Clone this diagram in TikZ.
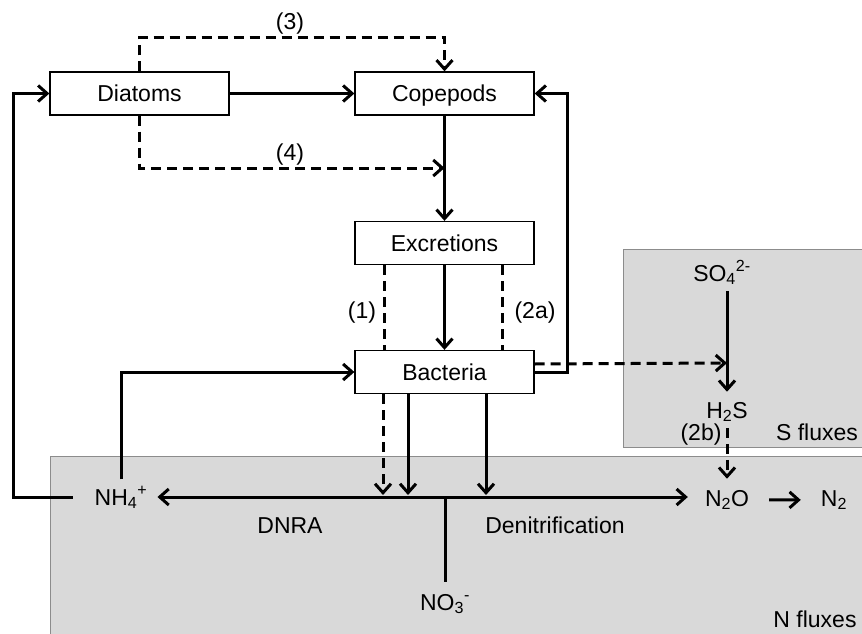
\documentclass[tikz,border=0pt]{standalone}
\usepackage{fontspec}
\setmainfont{Liberation Sans}
\usetikzlibrary{arrows.meta,calc,positioning}
\newcommand\subsup[2]{\textsubscript{#1}\textsuperscript{#2}}

\begin{document}
\begin{tikzpicture}[x=1pt, y=-1pt, font=\fontsize{23}{27}\selectfont,
  box/.style={draw, line width=1.3pt, fill=white, minimum width=179pt, minimum height=43pt, text height=16.5pt, text depth=0pt, inner sep=0pt},
  chem/.style={inner sep=0pt, anchor=base},
  zone/.style={draw=black!45, line width=1pt, fill=black!15},
  flux/.style={line width=3pt, -{Straight Barb[length=9pt,width=16pt]}},
  dflux/.style={flux, dash pattern=on 10pt off 6pt},
  dline/.style={line width=3pt, dash pattern=on 10pt off 6pt},
  plain/.style={line width=3pt}]
   \useasboundingbox (0,0) rectangle (862,634);
   % S and N zones
   \draw[zone] (50,456) rectangle (872,645);
   \draw[zone] (623,249) rectangle (872,447);

   \node[box] (dia) at (139.5,93.5) {Diatoms};
   \node[box] (cop) at (444.5,93.5) {Copepods};
   \node[box] (exc) at (444.5,243) {Excretions};
   \node[box] (bac) at (444.5,372) {Bacteria};

   \node[chem] (so4) at (722,281) {SO\subsup{4}{2-}};
   \node[chem] (h2s) at (727,418) {H\textsubscript{2}S};
   \node[chem] (nh4) at (121,505) {NH\subsup{4}{+}};
   \node[chem] (n2o) at (727,506) {N\textsubscript{2}O};
   \node[chem] (n2) at (834,506) {N\textsubscript{2}};
   \node[chem] (no3) at (445,610) {NO\subsup{3}{-}};

   \node[chem] (l3) at (290,30) {(3)};
   \node[chem] (l4) at (290,160) {(4)};
   \node[chem] (l1) at (362,318) {(1)};
   \node[chem] (l2a) at (535,318) {(2a)};
   \node[chem] (l2b) at (701,440) {(2b)};
   \node[chem] (sflux) at (817,440) {S fluxes};
   \node[chem] (dnra) at (290,533) {DNRA};
   \node[chem] (denit) at (555,533) {Denitrification};
   \node[chem] (nflux) at (815,627) {N fluxes};

   \coordinate (c4) at (444.5,168);
   \coordinate (c2a) at (727,363);
   \coordinate (nline) at (444,497);
   \coordinate (ntop) at (444,495);

   % food web
   \draw[dflux] (dia.north) -- ++(0,-34) -| (cop.north);
   \draw[flux] (dia) -- (cop);
   \draw[dflux] (dia.south) |- (c4);
   \draw[flux] (cop) -- (exc);
   \draw[flux] (exc) -- (bac);
   \draw[dline] ([xshift=-60.5pt]exc.south) -- ([xshift=-60.5pt]bac.north);
   \draw[dline] ([xshift=57.5pt]exc.south) -- ([xshift=57.5pt]bac.north);
   \draw[flux] (bac.east) -- ++(33,0) |- (cop.east);
   \draw[dflux] ([yshift=8pt]bac.east) -- (c2a);

   % S fluxes
   \draw[flux, shorten <=6pt, shorten >=10pt] (so4.south -| h2s.north) -- (h2s.north);
   \draw[dflux, shorten <=6pt, shorten >=11pt] (h2s) -- (n2o);

   % N fluxes
   \draw[dflux] ([xshift=-61.5pt]bac.south) -- ([xshift=-61.5pt]bac.south |- ntop);
   \draw[flux] ([xshift=-36.5pt]bac.south) -- ([xshift=-36.5pt]bac.south |- ntop);
   \draw[flux] ([xshift=41.5pt]bac.south) -- ([xshift=41.5pt]bac.south |- ntop);
   \draw[flux, {Straight Barb[length=9pt,width=16pt]}-{Straight Barb[length=9pt,width=16pt]}, shorten <=10pt, shorten >=17pt] (nh4.east |- nline) -- (n2o.west |- nline);
   \draw[plain, shorten <=12pt] (no3.north) -- (no3.north |- nline);
   \draw[flux, shorten <=20pt, shorten >=20pt] (n2o) -- (n2);
   \draw[flux, shorten <=7pt] (nh4.north) |- (bac.west);
   \draw[flux, shorten <=22pt] (nh4.west) -- ++(-81,0) |- (dia.west);
\end{tikzpicture}
\end{document}
